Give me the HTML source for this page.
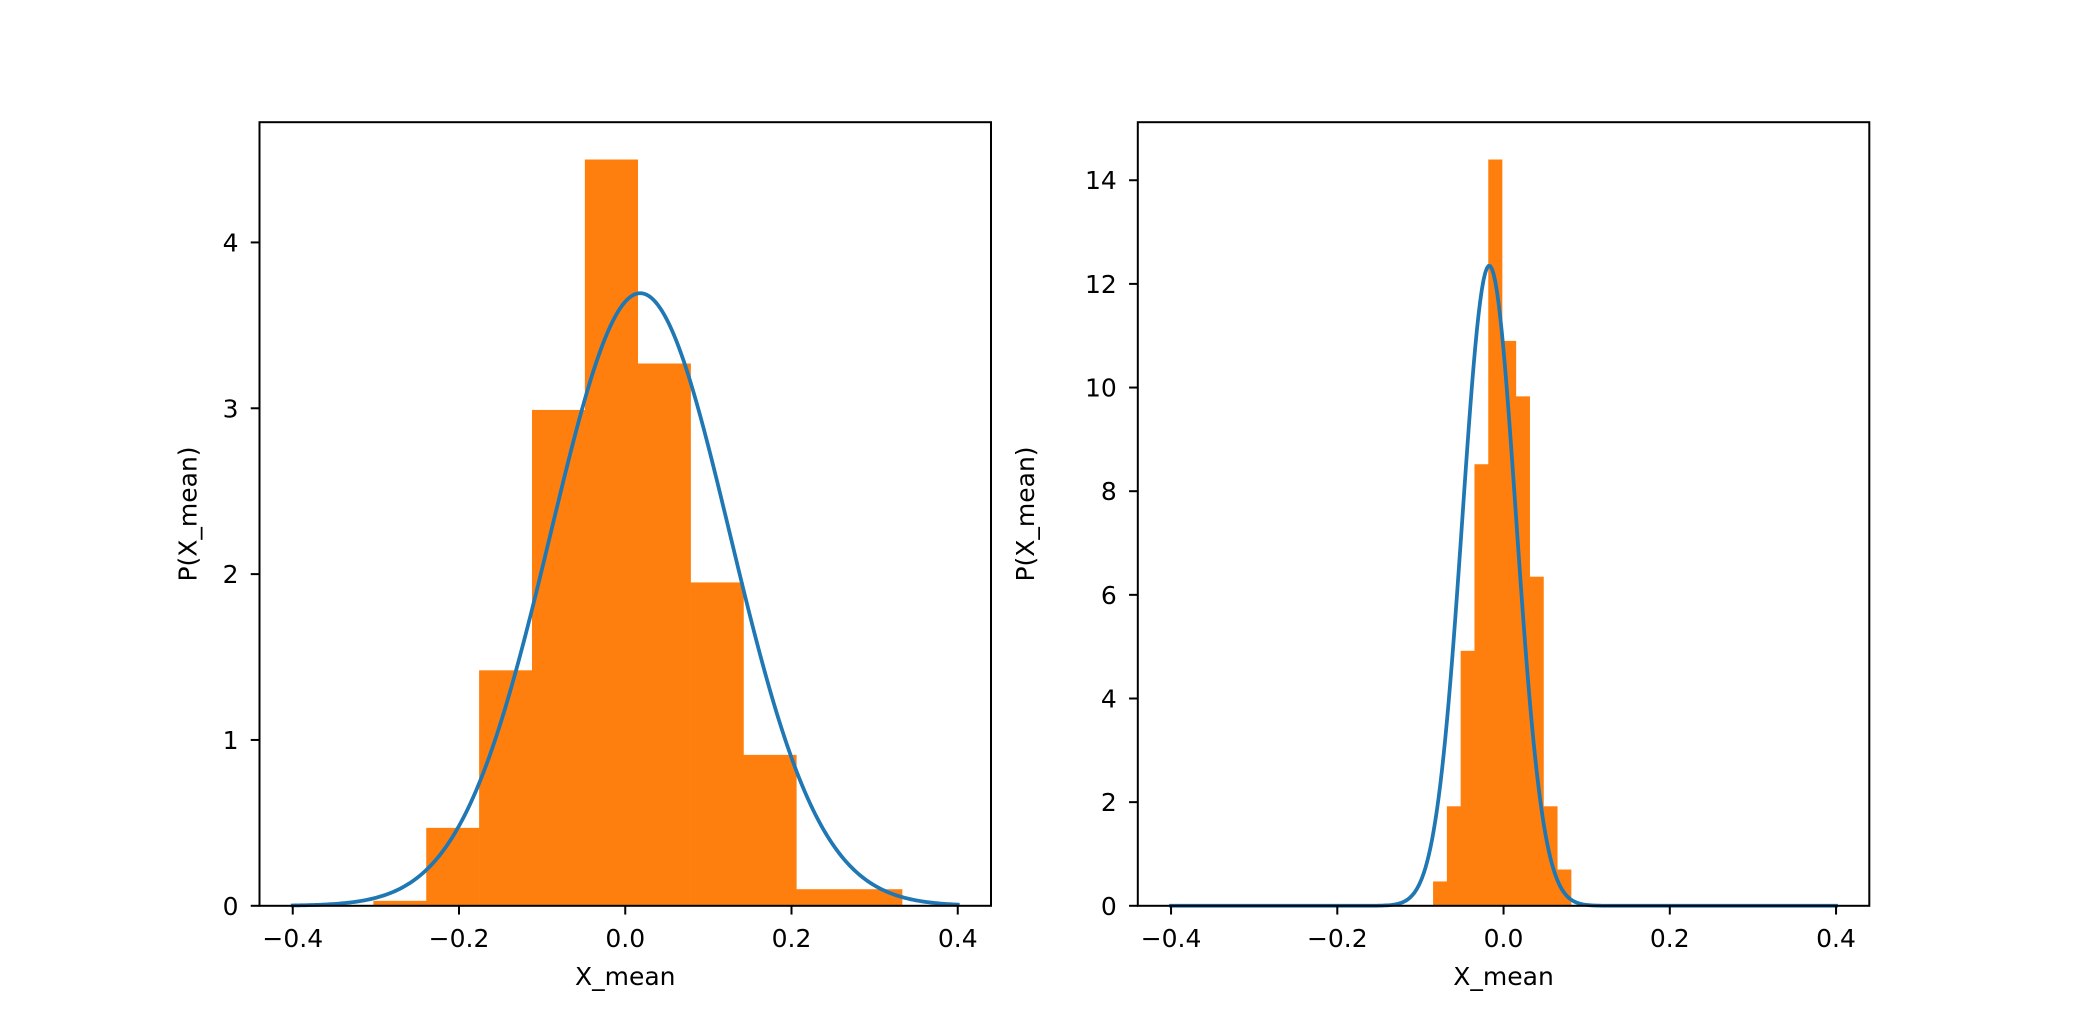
<!DOCTYPE html>
<html><head><meta charset="utf-8"><style>
html,body{margin:0;padding:0;background:#fff;}
svg{display:block;font-family:"DejaVu Sans","Liberation Sans",sans-serif;}
</style></head><body>
<svg id="fig" width="2076" height="1018" viewBox="0 0 2076 1018" xmlns="http://www.w3.org/2000/svg">
<rect width="2076" height="1018" fill="#fff"/>
</svg>
<script>
// Left panel data
const leftBinEdges = [-0.303, -0.2394, -0.1758, -0.1122, -0.0486, 0.015, 0.0786, 0.1422, 0.2058, 0.2694, 0.333];
const leftHeights = [0.03, 0.47, 1.42, 2.99, 4.5, 3.27, 1.95, 0.91, 0.1, 0.1];
const leftFit = [0.018, 0.108]; // mean, std
const leftYTicks = [0, 1, 2, 3, 4];
// Right panel data
const rightBinEdges = [-0.0848, -0.0682, -0.0516, -0.035, -0.0184, -0.0018, 0.0148, 0.0314, 0.048, 0.0646, 0.0812];
const rightHeights = [0.47, 1.92, 4.92, 8.52, 14.4, 10.9, 9.83, 6.35, 1.92, 0.7];
const rightFit = [-0.0172, 0.0323];
const rightYTicks = [0, 2, 4, 6, 8, 10, 12, 14];
const xTicks = [-0.4, -0.2, 0.0, 0.2, 0.4];
const xTickLabels = ["\u22120.4", "\u22120.2", "0.0", "0.2", "0.4"];
const curveRange = [-0.4, 0.4];

const NS = "http://www.w3.org/2000/svg";
const svg = document.getElementById('fig');
function mk(tag, attrs, parent){
  const e = document.createElementNS(NS, tag);
  for (const k in attrs) e.setAttribute(k, attrs[k]);
  (parent||svg).appendChild(e); return e;
}
function panel(name, x0, x1, edges, heights, fit, yTicks){
  const top = 122.2, bot = 905.8;
  const xmin = -0.44, xmax = 0.44;
  const ymax = Math.max(...heights) * 1.05;
  const X = v => x0 + (v - xmin) / (xmax - xmin) * (x1 - x0);
  const Y = v => bot - v / ymax * (bot - top);
  const g = mk('g', {});
  
  
  for (let i = 0; i < heights.length; i++){
    const r = mk('rect', {x: X(edges[i]), y: Y(heights[i]), width: X(edges[i+1]) - X(edges[i]) + 0.3, height: bot - Y(heights[i]), fill: '#ff7f0e'}, g);
    
    
  }
  let d = '';
  const N = 400;
  for (let i = 0; i <= N; i++){
    const v = curveRange[0] + (curveRange[1] - curveRange[0]) * i / N;
    const p = Math.exp(-0.5 * Math.pow((v - fit[0]) / fit[1], 2)) / (fit[1] * Math.sqrt(2 * Math.PI));
    d += (i ? 'L' : 'M') + X(v).toFixed(2) + ',' + Y(p).toFixed(2);
  }
  const c = mk('path', {d: d, fill: 'none', stroke: '#1f77b4', 'stroke-width': 3.75, 'stroke-linejoin': 'round', 'stroke-linecap': 'square'}, g);
  
  
  const f = mk('rect', {x: x0, y: top, width: x1 - x0, height: bot - top, fill: 'none', stroke: '#000', 'stroke-width': 2}, g);
  
  
  xTicks.forEach((t, i) => {
    mk('line', {x1: X(t), x2: X(t), y1: bot, y2: bot + 8.75, stroke: '#000', 'stroke-width': 2}, g);
    const tx = mk('text', {x: X(t), y: 947, 'font-size': 25, 'text-anchor': 'middle'}, g);
    tx.textContent = xTickLabels[i];
    
    
  });
  yTicks.forEach(t => {
    mk('line', {x1: x0 - 8.75, x2: x0, y1: Y(t), y2: Y(t), stroke: '#000', 'stroke-width': 2}, g);
    const tx = mk('text', {x: x0 - 21, y: Y(t) + 9, 'font-size': 25, 'text-anchor': 'end'}, g);
    tx.textContent = String(t);
    
    
  });
  const xl = mk('text', {x: (x0 + x1) / 2, y: 985, 'font-size': 25, 'text-anchor': 'middle'}, g);
  xl.textContent = 'X_mean';
  
  
  const lx = x0 - (yTicks[yTicks.length-1] >= 10 ? 104 : 63);
  const yl = mk('text', {x: 0, y: 0, 'font-size': 25, 'text-anchor': 'middle', transform: 'translate(' + lx + ',' + ((top + bot) / 2) + ') rotate(-90)'}, g);
  yl.textContent = 'P(X_mean)';
  
  
}
panel('left-histogram-panel', 259.5, 991, leftBinEdges, leftHeights, leftFit, leftYTicks);
panel('right-histogram-panel', 1137.8, 1869.3, rightBinEdges, rightHeights, rightFit, rightYTicks);
</script>
</body></html>
